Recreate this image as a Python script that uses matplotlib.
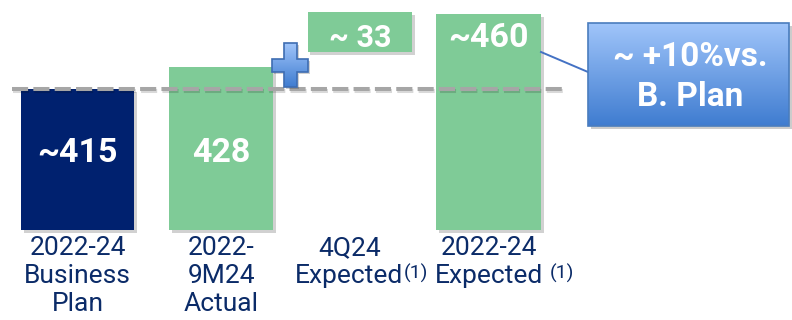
import matplotlib
matplotlib.use('Agg')
import matplotlib.pyplot as plt
import numpy as np
from matplotlib import patheffects as pe
from matplotlib.patches import Rectangle, Polygon
from matplotlib.colors import LinearSegmentedColormap

plt.rcParams['font.family'] = ['Roboto', 'DejaVu Sans']

# ---------------- data ----------------
categories = ["2022-24\nBusiness\nPlan", "2022-\n9M24\nActual", "4Q24\nExpected", "2022-24\nExpected"]
footnotes = [None, None, "(1)", "(1)"]
values = [415, 428, 33, 460]
value_labels = ["~415", "428", "~ 33", "~460"]
callout_lines = ["~ +10%vs.", "B. Plan"]

# ---------------- style ----------------
NAVY = '#00216F'
GREEN = '#7FCB97'
TXT = '#0B2B68'
GREY = '#A6A6A6'

x = np.array([0, 1.05, 2.06, 3.0])
widths = [0.825, 0.76, 0.76, 0.766]
base = 330.4          # visual axis break
float_height = 24     # compressed display height for the increment bar

fig = plt.figure(figsize=(7.92, 3.2), dpi=100)
ax = fig.add_axes([0, 0, 1, 1])
ax.axis('off')
ax.set_xlim(-0.566, 5.215)
ax.set_ylim(276.4, 468.4)

shadow = [pe.SimplePatchShadow(offset=(2, -2), shadow_rgbFace='k', alpha=0.18), pe.Normal()]

# bars
ax.bar(x[0], values[0] - base, bottom=base, width=widths[0], color=NAVY, zorder=2, path_effects=shadow)
ax.bar(x[1], values[1] - base, bottom=base, width=widths[1], color=GREEN, zorder=2, path_effects=shadow)
float_top = values[1] + values[2]
ax.bar(x[2], float_height, bottom=float_top - float_height, width=widths[2], color=GREEN, zorder=2,
       path_effects=shadow)
ax.bar(x[3], values[3] - base, bottom=base, width=widths[3], color=GREEN, zorder=2, path_effects=shadow)

# dashed reference line at business plan level
ax.plot([-0.478, 3.536], [values[0], values[0]], color=GREY, lw=2.9, dashes=(4, 1.3),
        dash_capstyle='butt', zorder=3,
        path_effects=[pe.SimpleLineShadow(offset=(0.8, -1.2), alpha=0.15), pe.Normal()])

# value labels
label_y = [371.2, 371.2, 440.2, 440.2]
label_fs = [24.5, 24.5, 22, 24.5]
for xi, ly, lab, fs in zip(x, label_y, value_labels, label_fs):
    ax.text(xi, ly, lab, ha='center', va='baseline', color='white', fontsize=fs,
            fontweight='bold', zorder=4)

# category labels
label_dx = [0, 0, -0.075, 0]
fn_dx = [0, 0, 0, 5]
for xi, cat, fn, sx, dx in zip(x, categories, footnotes, label_dx, fn_dx):
    t = ax.text(xi + sx, 326.8, cat, ha='center', va='top', fontsize=19, color=TXT,
                linespacing=1.2, zorder=4)
    if fn:
        ax.annotate(fn, xy=(1, 0), xycoords=t, xytext=(dx, 3.5), textcoords='offset points',
                    ha='left', va='bottom', fontsize=14, color=TXT)

# ---------------- decorations (pixel coordinates overlay) ----------------
ov = fig.add_axes([0, 0, 1, 1], zorder=5)
ov.set_xlim(0, 792)
ov.set_ylim(320, 0)
ov.axis('off')
ov.patch.set_visible(False)

blue_cmap = LinearSegmentedColormap.from_list('b', ['#A0C5FA', '#3F7CD0'])
grad = np.linspace(0, 1, 256).reshape(-1, 1)

# plus sign
cx, cy, hw, hh, th = 290, 65, 18, 22, 6.5
pts = [(cx - th, cy - hh), (cx + th, cy - hh), (cx + th, cy - th), (cx + hw, cy - th),
       (cx + hw, cy + th), (cx + th, cy + th), (cx + th, cy + hh), (cx - th, cy + hh),
       (cx - th, cy + th), (cx - hw, cy + th), (cx - hw, cy - th), (cx - th, cy - th)]
sh = Polygon([(px + 2, py + 2) for px, py in pts], closed=True, facecolor='k', alpha=0.18,
             edgecolor='none', zorder=1)
ov.add_patch(sh)
plus = Polygon(pts, closed=True, facecolor='none', edgecolor='#3E6DB2', lw=1.2, zorder=3)
ov.add_patch(plus)
im = ov.imshow(grad, extent=(cx - hw, cx + hw, cy + hh, cy - hh), cmap=blue_cmap,
               aspect='auto', origin='upper', zorder=2)
im.set_clip_path(plus)

# connector line
ov.plot([541, 588], [52, 72], color='#4472C4', lw=1.4, zorder=1)

# callout box
bx0, by0, bx1, by1 = 588, 23, 789, 126
ov.add_patch(Rectangle((bx0 + 3, by0 + 3), bx1 - bx0, by1 - by0, facecolor='k', alpha=0.2,
                       edgecolor='none', zorder=1))
box = Rectangle((bx0, by0), bx1 - bx0, by1 - by0, facecolor='none', edgecolor='#4A7DBE',
                lw=1.2, zorder=3)
ov.add_patch(box)
im2 = ov.imshow(grad, extent=(bx0, bx1, by1, by0), cmap=blue_cmap, aspect='auto',
                origin='upper', zorder=2)
im2.set_clip_path(box)
for line, yb in zip(callout_lines, [66, 106]):
    ov.text(690, yb, line, ha='center', va='baseline', color='white', fontsize=24,
            fontweight='bold', zorder=4)

ov.set_xlim(0, 792)
ov.set_ylim(320, 0)

fig.savefig('out.png', dpi=100)
